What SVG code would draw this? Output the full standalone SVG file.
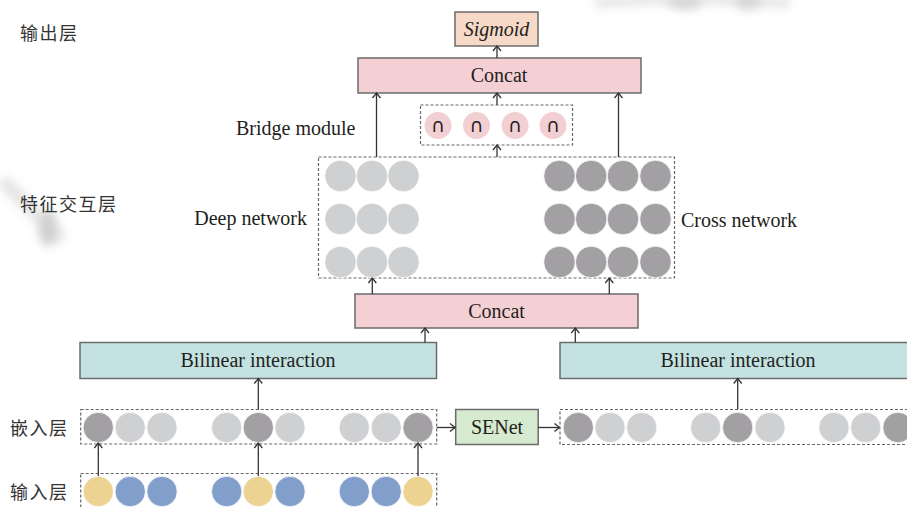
<svg xmlns="http://www.w3.org/2000/svg" width="907" height="507" viewBox="0 0 907 507">
  <style>
    .box { stroke: #6b6b6b; stroke-width: 1.5; }
    .dash { fill: none; stroke: #666; stroke-width: 1.2; stroke-dasharray: 3 2; }
    .lbl { font-family: "Liberation Serif", "Times New Roman", serif; font-size: 20px; fill: #231f20; }
    .cn { font-family: "Noto Sans CJK SC", "Noto Sans", sans-serif; font-size: 18px; fill: #333; letter-spacing: 1.5px; }
    .cap { font-family: "DejaVu Sans", sans-serif; font-size: 19px; fill: #231f20; text-anchor: middle; }
    .lg { fill: #cfd0d2; stroke: #fff; stroke-width: 0.8; }
    .dg { fill: #a2a0a3; stroke: #fff; stroke-width: 0.8; }
    .yl { fill: #ecd392; stroke: #fff; stroke-width: 0.8; }
    .bl { fill: #819fca; stroke: #fff; stroke-width: 0.8; }
    .pk { fill: #f2cfd3; }
    .conn line { stroke: #333; stroke-width: 1.3; marker-end: url(#arr); }
  </style>
  <defs>
    <marker id="arr" markerUnits="userSpaceOnUse" markerWidth="12" markerHeight="12" refX="6" refY="6" orient="auto">
      <path d="M1,2 L6,6 L1,10" fill="none" stroke="#333" stroke-width="1.3"/>
    </marker>
    <filter id="soft" x="-50%" y="-50%" width="200%" height="200%">
      <feGaussianBlur stdDeviation="5"/>
    </filter>
  </defs>

  <rect width="907" height="507" fill="#fff"/>

  <!-- faint background marks -->
  <g id="marks" filter="url(#soft)" opacity="0.3">
    <path d="M595,3 Q690,-4 790,3" stroke="#aaa" stroke-width="10" fill="none"/>
    <ellipse cx="685" cy="2" rx="18" ry="8" fill="#777"/>
    <ellipse cx="748" cy="2" rx="14" ry="8" fill="#777"/>
    <path d="M2,180 L62,240" stroke="#aaa" stroke-width="14" fill="none"/>
    <ellipse cx="48" cy="228" rx="10" ry="18" fill="#666"/>
  </g>

  <!-- layer names -->
  <text class="cn" x="20" y="40">输出层</text>
  <text class="cn" x="20" y="211">特征交互层</text>
  <text class="cn" x="10" y="435">嵌入层</text>
  <text class="cn" x="10" y="499">输入层</text>

  <g id="sigmoid">
    <rect class="box" x="455" y="12" width="83" height="34" fill="#f7d9c8"/>
    <text class="lbl" x="496.5" y="36" text-anchor="middle" font-style="italic">Sigmoid</text>
  </g>

  <g id="concat-top">
    <rect class="box" x="358" y="58" width="283" height="35" fill="#f4d0d4"/>
    <text class="lbl" x="499" y="82" text-anchor="middle">Concat</text>
  </g>

  <g id="bridge">
    <text class="lbl" x="236" y="135">Bridge module</text>
    <rect class="dash" x="420.5" y="105" width="152" height="40"/>
    <circle class="pk" cx="438" cy="125.5" r="13.5"/>
    <circle class="pk" cx="476.5" cy="125.5" r="13.5"/>
    <circle class="pk" cx="515" cy="125.5" r="13.5"/>
    <circle class="pk" cx="553" cy="125.5" r="13.5"/>
    <text class="cap" x="438" y="132">∩</text>
    <text class="cap" x="476.5" y="132">∩</text>
    <text class="cap" x="515" y="132">∩</text>
    <text class="cap" x="553" y="132">∩</text>
  </g>

  <g id="networks">
    <rect class="dash" x="318.5" y="157" width="356" height="121"/>
    <text class="lbl" x="307" y="225" text-anchor="end">Deep network</text>
    <text class="lbl" x="681" y="227">Cross network</text>
    <g id="deep">
      <circle class="lg" cx="340.5" cy="176" r="15.8"/>
      <circle class="lg" cx="372" cy="176" r="15.8"/>
      <circle class="lg" cx="403.5" cy="176" r="15.8"/>
      <circle class="lg" cx="340.5" cy="219" r="15.8"/>
      <circle class="lg" cx="372" cy="219" r="15.8"/>
      <circle class="lg" cx="403.5" cy="219" r="15.8"/>
      <circle class="lg" cx="340.5" cy="262" r="15.8"/>
      <circle class="lg" cx="372" cy="262" r="15.8"/>
      <circle class="lg" cx="403.5" cy="262" r="15.8"/>
    </g>
    <g id="cross">
      <circle class="dg" cx="559.5" cy="176" r="15.8"/>
      <circle class="dg" cx="591.2" cy="176" r="15.8"/>
      <circle class="dg" cx="623" cy="176" r="15.8"/>
      <circle class="dg" cx="655.5" cy="176" r="15.8"/>
      <circle class="dg" cx="559.5" cy="219" r="15.8"/>
      <circle class="dg" cx="591.2" cy="219" r="15.8"/>
      <circle class="dg" cx="623" cy="219" r="15.8"/>
      <circle class="dg" cx="655.5" cy="219" r="15.8"/>
      <circle class="dg" cx="559.5" cy="262" r="15.8"/>
      <circle class="dg" cx="591.2" cy="262" r="15.8"/>
      <circle class="dg" cx="623" cy="262" r="15.8"/>
      <circle class="dg" cx="655.5" cy="262" r="15.8"/>
    </g>
  </g>

  <g id="concat-mid">
    <rect class="box" x="355" y="294" width="283" height="34" fill="#f4d0d4"/>
    <text class="lbl" x="496.5" y="318" text-anchor="middle">Concat</text>
  </g>

  <g id="bilinear-left">
    <rect class="box" x="80" y="342.5" width="356.5" height="36" fill="#c5e2e3"/>
    <text class="lbl" x="258" y="367" text-anchor="middle">Bilinear interaction</text>
  </g>

  <g id="bilinear-right">
    <rect class="box" x="560" y="342.5" width="360" height="36" fill="#c5e2e3"/>
    <text class="lbl" x="738" y="367" text-anchor="middle">Bilinear interaction</text>
  </g>

  <g id="embedding">
    <rect class="dash" x="80.7" y="409.5" width="356" height="34.5"/>
    <circle class="dg" cx="98.3" cy="427.5" r="15.2"/>
    <circle class="lg" cx="130.2" cy="427.5" r="15.2"/>
    <circle class="lg" cx="162" cy="427.5" r="15.2"/>
    <circle class="lg" cx="226.7" cy="427.5" r="15.2"/>
    <circle class="dg" cx="258.3" cy="427.5" r="15.2"/>
    <circle class="lg" cx="290" cy="427.5" r="15.2"/>
    <circle class="lg" cx="354.3" cy="427.5" r="15.2"/>
    <circle class="lg" cx="386.2" cy="427.5" r="15.2"/>
    <circle class="dg" cx="418" cy="427.5" r="15.2"/>
  </g>

  <g id="input">
    <rect class="dash" x="80.7" y="473.5" width="356" height="36"/>
    <circle class="yl" cx="98.3" cy="491.5" r="15.2"/>
    <circle class="bl" cx="130.2" cy="491.5" r="15.2"/>
    <circle class="bl" cx="162" cy="491.5" r="15.2"/>
    <circle class="bl" cx="226.7" cy="491.5" r="15.2"/>
    <circle class="yl" cx="258.3" cy="491.5" r="15.2"/>
    <circle class="bl" cx="290" cy="491.5" r="15.2"/>
    <circle class="bl" cx="354.3" cy="491.5" r="15.2"/>
    <circle class="bl" cx="386.2" cy="491.5" r="15.2"/>
    <circle class="yl" cx="418" cy="491.5" r="15.2"/>
  </g>

  <g id="senet">
    <rect class="box" x="455.7" y="409.5" width="82.5" height="35" fill="#d6eacf"/>
    <text class="lbl" x="497" y="434" text-anchor="middle">SENet</text>
  </g>

  <g id="embedding-weighted">
    <rect class="dash" x="560" y="409.5" width="360" height="35"/>
    <circle class="dg" cx="578.3" cy="427.5" r="15.2"/>
    <circle class="lg" cx="610" cy="427.5" r="15.2"/>
    <circle class="lg" cx="641.7" cy="427.5" r="15.2"/>
    <circle class="lg" cx="705.7" cy="427.5" r="15.2"/>
    <circle class="dg" cx="737.7" cy="427.5" r="15.2"/>
    <circle class="lg" cx="770" cy="427.5" r="15.2"/>
    <circle class="lg" cx="834" cy="427.5" r="15.2"/>
    <circle class="lg" cx="865.7" cy="427.5" r="15.2"/>
    <circle class="dg" cx="898" cy="427.5" r="15.2"/>
  </g>

  <g class="conn" id="connectors">
    <line x1="98.3" y1="476" x2="98.3" y2="443"/>
    <line x1="258.3" y1="476" x2="258.3" y2="443"/>
    <line x1="418" y1="476" x2="418" y2="443"/>
    <line x1="258.3" y1="409.5" x2="258.3" y2="378.5"/>
    <line x1="436.7" y1="427.5" x2="455" y2="427.5"/>
    <line x1="538.2" y1="427.5" x2="559.5" y2="427.5"/>
    <line x1="737.7" y1="409.5" x2="737.7" y2="378.5"/>
    <line x1="425" y1="342.5" x2="425" y2="328"/>
    <line x1="575.3" y1="342.5" x2="575.3" y2="328"/>
    <line x1="372.3" y1="294" x2="372.3" y2="278"/>
    <line x1="609.3" y1="294" x2="609.3" y2="278"/>
    <line x1="376.5" y1="157" x2="376.5" y2="93"/>
    <line x1="618.5" y1="157" x2="618.5" y2="93"/>
    <line x1="497" y1="157" x2="497" y2="145"/>
    <line x1="497" y1="105" x2="497" y2="93"/>
    <line x1="497" y1="58" x2="497" y2="46"/>
  </g>
</svg>
